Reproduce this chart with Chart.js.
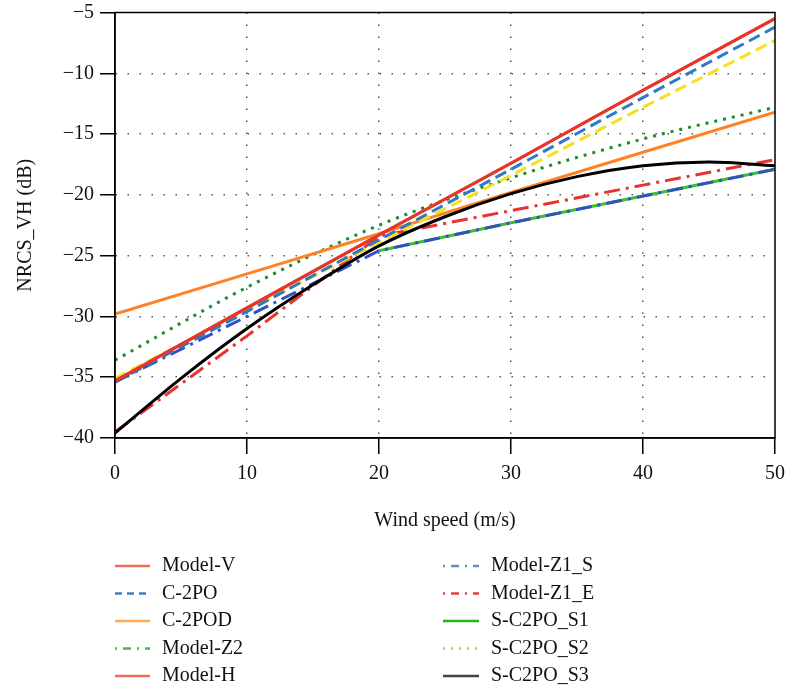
<!DOCTYPE html>
<html><head><meta charset="utf-8">
<script src="https://cdn.jsdelivr.net/npm/chart.js@4.4.1/dist/chart.umd.min.js"></script>
<style>html,body{margin:0;padding:0;background:#fff}canvas{display:block}</style>
</head><body>
<canvas id="c" width="785" height="688"></canvas>
<script>
// ---- data ----
const xTicks = [0, 10, 20, 30, 40, 50];
const yTicks = [-40, -35, -30, -25, -20, -15, -10, -5];
const windSpeed = [0, 10, 20, 30, 40, 50];
const windSpeedFine = [0, 5, 10, 15, 20, 25, 30, 35, 40, 45, 50];

const modelV    = [-35.3, -29.3, -23.3, -17.4, -11.4, -5.5];
const modelH    = [-35.3, -29.3, -23.3, -17.4, -11.4, -5.5];
const c2po      = [-35.4, -29.6, -23.7, -17.9, -12.0, -6.2];
const c2pod     = [-29.8, -26.5, -23.2, -19.8, -16.5, -13.2];
const modelZ2   = [-33.6, -27.6, -22.5, -18.6, -15.4, -12.8];
const modelZ1S  = [-35.4, -30.0, -24.6, -22.3, -20.1, -17.9];
const modelZ1E  = [-39.5, -31.6, -23.4, -21.3, -19.2, -17.1];
const sc2poS1   = [null, null, -24.6, -22.3, -20.1, -17.9];
const sc2poS2   = [-35.1, -29.5, -23.9, -18.4, -12.8, -7.3];
const sc2poS3   = [-39.6, -35.1, -31.0, -27.4, -24.2, -21.8, -19.9, -18.5, -17.6, -17.3, -17.6];

const legendNames = ['Model-V', 'C-2PO', 'C-2POD', 'Model-Z2', 'Model-H',
                     'Model-Z1_S', 'Model-Z1_E', 'S-C2PO_S1', 'S-C2PO_S2', 'S-C2PO_S3'];

// ---- styles ----
const FONT = '"Liberation Serif", "Times New Roman", serif';
function pts(xs, ys) { return xs.map((x, i) => ({x: x, y: ys[i]})).filter(p => p.y !== null); }
function ds(label, xs, ys, color, dash, order, curve) {
  return {label, data: pts(xs, ys), borderColor: color, borderDash: dash, borderWidth: 3,
    pointRadius: 0, fill: false, order: order,
    tension: curve ? 0.4 : 0, cubicInterpolationMode: curve ? 'monotone' : 'default'};
}
const DASH = [12, 6], DASHDOT = [16, 6, 3, 6], DOT = [3, 6];
const datasets = [
  ds('Model-V', windSpeed, modelV, '#e8352b', [], 1, false),
  ds('C-2PO', windSpeed, c2po, '#2e7bc2', DASH, 3, false),
  ds('C-2POD', windSpeed, c2pod, '#ff8124', [], 5, false),
  ds('Model-Z2', windSpeed, modelZ2, '#1a8c2c', DOT, 6, true),
  ds('Model-H', windSpeed, modelH, '#e8352b', [], 2, false),
  ds('Model-Z1_S', windSpeed, modelZ1S, '#3152c2', DASHDOT, 8, false),
  ds('Model-Z1_E', windSpeed, modelZ1E, '#e8332e', DASHDOT, 7, false),
  ds('S-C2PO_S1', windSpeed, sc2poS1, '#3bbf2a', [], 9, false),
  ds('S-C2PO_S2', windSpeed, sc2poS2, '#f6e01e', DASH, 4, false),
  ds('S-C2PO_S3', windSpeedFine, sc2poS3, '#000000', [], 0, true)
];
const legendColors = ['#f06e5e', '#3d80c4', '#ffab55', '#4cb944', '#f06e5e',
                      '#6a86cc', '#e0413a', '#22b522', '#a3d83a', '#444444'];
const legendDash = [[], [7, 5], [], [2, 6, 8, 6], [], [2, 6, 8, 6], [2, 6, 8, 6], [], [2, 6], []];

const framePlugin = {
  id: 'frame',
  afterDraw(chart) {
    const {ctx, chartArea: a} = chart;
    ctx.save();
    ctx.strokeStyle = '#000'; ctx.lineWidth = 1.5; ctx.setLineDash([]);
    ctx.strokeRect(a.left, a.top, a.right - a.left, a.bottom - a.top);
    // legend
    ctx.font = '20px ' + FONT; ctx.textBaseline = 'middle'; ctx.fillStyle = '#111';
    legendNames.forEach((name, i) => {
      const col = Math.floor(i / 5), row = i % 5;
      const y = 566 + row * 27.5;
      const x0 = col ? 443 : 115, x1 = col ? 479 : 150, tx = col ? 491 : 162;
      ctx.beginPath(); ctx.setLineDash(legendDash[i]); ctx.lineWidth = 2.5;
      ctx.strokeStyle = legendColors[i];
      ctx.moveTo(x0, y); ctx.lineTo(x1, y); ctx.stroke();
      ctx.setLineDash([]);
      ctx.fillText(name, tx, y);
    });
    ctx.restore();
  }
};

const fmt = v => String(v).replace('-', '\u2212');
const gridColor = edges => (c => (c.tick && edges.includes(c.tick.value)) ? 'rgba(0,0,0,0)' : '#555');

new Chart(document.getElementById('c'), {
  type: 'line',
  data: {datasets},
  plugins: [framePlugin],
  options: {
    responsive: false, animation: false, devicePixelRatio: 1,
    layout: {padding: {left: 0, top: 12.5, right: 10, bottom: 147}},
    plugins: {legend: {display: false}, tooltip: {enabled: false}},
    scales: {
      x: {
        type: 'linear', min: 0, max: 50,
        afterBuildTicks: s => { s.ticks = xTicks.map(v => ({value: v})); },
        afterFit: s => { s.height = 103; s.paddingLeft = 0; s.paddingRight = 0; },
        ticks: {callback: fmt, color: '#111', font: {family: FONT, size: 20}, padding: 8, maxRotation: 0},
        grid: {color: gridColor([0, 50]), lineWidth: 1.5, tickColor: '#000', tickLength: 16, tickWidth: 1.5},
        border: {display: true, color: '#000', width: 1.5, dash: [1.5, 10.5]},
        title: {display: true, text: 'Wind speed (m/s)', color: '#111', font: {family: FONT, size: 20}, padding: {top: 0, bottom: 8}}
      },
      y: {
        type: 'linear', min: -40, max: -5,
        afterBuildTicks: s => { s.ticks = yTicks.map(v => ({value: v})); },
        afterFit: s => { s.width = 115; s.paddingTop = 0; s.paddingBottom = 0; },
        ticks: {callback: fmt, color: '#111', font: {family: FONT, size: 20}, padding: 6},
        grid: {color: gridColor([-5, -40]), lineWidth: 1.5, tickColor: '#000', tickLength: 15, tickWidth: 1.5},
        border: {display: true, color: '#000', width: 1.5, dash: [1.5, 10.5]},
        title: {display: true, text: 'NRCS_VH (dB)', color: '#111', font: {family: FONT, size: 20}, padding: {top: 14, bottom: 0}}
      }
    }
  }
});
</script>
</body></html>
